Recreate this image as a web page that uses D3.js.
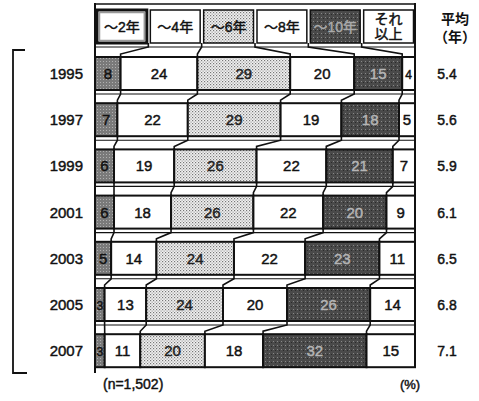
<!DOCTYPE html>
<html><head><meta charset="utf-8">
<script src="https://cdn.jsdelivr.net/npm/d3@7"></script>
<style>
html,body{margin:0;padding:0;background:#fff;}
svg{display:block;font-family:"Liberation Sans",Arial,"Noto Sans CJK JP",sans-serif;}
.t{stroke-width:0.45px;}
</style></head>
<body><svg id="c" width="479" height="401"></svg>
<script>
const years = ["1995","1997","1999","2001","2003","2005","2007"];
const categories = ["～2年","～4年","～6年","～8年","～10年","それ\n以上"];
const s2   = [8,7,6,6,5,3,3];
const s4   = [24,22,19,18,14,13,11];
const s6   = [29,29,26,26,24,24,20];
const s8   = [20,19,22,22,22,20,18];
const s10  = [15,18,21,20,23,26,32];
const sMore= [4,5,7,9,11,14,15];
const avgYears = ["5.4","5.6","5.9","6.1","6.5","6.8","7.1"];
const series = [s2,s4,s6,s8,s10,sMore];

const svg = d3.select("#c");
const defs = svg.append("defs");
const pDot = defs.append("pattern").attr("id","dots").attr("width",3).attr("height",3).attr("patternUnits","userSpaceOnUse");
pDot.append("rect").attr("width",3).attr("height",3).attr("fill","#f2f2f2");
pDot.append("rect").attr("x",0).attr("y",0).attr("width",1.2).attr("height",1.2).attr("fill","#777");
pDot.append("rect").attr("x",1.5).attr("y",1.5).attr("width",1.2).attr("height",1.2).attr("fill","#999");
const pDark = defs.append("pattern").attr("id","dark").attr("width",4).attr("height",4).attr("patternUnits","userSpaceOnUse");
pDark.append("rect").attr("width",4).attr("height",4).attr("fill","#4a4a4a");
pDark.append("rect").attr("x",1).attr("y",1).attr("width",1).attr("height",1).attr("fill","#888");
pDark.append("rect").attr("x",3).attr("y",2).attr("width",1).attr("height",1).attr("fill","#2a2a2a");
const pMid = defs.append("pattern").attr("id","mid").attr("width",3).attr("height",3).attr("patternUnits","userSpaceOnUse");
pMid.append("rect").attr("width",3).attr("height",3).attr("fill","#7a7a7a");
pMid.append("rect").attr("x",1).attr("y",1).attr("width",1).attr("height",1).attr("fill","#b0b0b0");

const fills = ["url(#mid)","#fff","url(#dots)","#fff","url(#dark)","#fff"];
const textFills = ["#111","#111","#222","#111","#b5b5b5","#111"];

const x = d3.scaleLinear().domain([0,100]).range([95,415]);
const y = d3.scaleLinear().domain([0,6]).range([57, 57+6*46.2]);
const barH = 33;
const rowTop = i => y(i);

const rows = years.map((yr,i)=>{
  const vals = series.map(s=>s[i]);
  const tot = d3.sum(vals);
  let c = 0;
  const segs = vals.map((v,k)=>{ const a=c; c+=v; return {k, v, a:a/tot*100, b:c/tot*100}; });
  return {yr, i, segs};
});

svg.append("line").attr("x1",95).attr("x2",415).attr("y1",4).attr("y2",4).attr("stroke","#111").attr("stroke-width",1.5);
svg.append("line").attr("x1",95).attr("x2",95).attr("y1",3).attr("y2",373).attr("stroke","#111").attr("stroke-width",2);
svg.append("line").attr("x1",415).attr("x2",415).attr("y1",3).attr("y2",rowTop(6)+barH).attr("stroke","#111").attr("stroke-width",2);

const legTop = 10, legBot = 43;
const legB = d3.range(7).map(k=>k*100/6);
const lg = svg.append("g");
categories.forEach((c,k)=>{
  const x0 = x(legB[k])+2, x1 = x(legB[k+1])-1.5;
  lg.append("rect").attr("x",x0).attr("y",legTop).attr("width",x1-x0).attr("height",legBot-legTop)
    .attr("fill",k===0?"#fff":fills[k]).attr("stroke","#111").attr("stroke-width",k===0?3:1.5);
  if(k===0){ lg.append("rect").attr("x",x0+2.5).attr("y",legTop+2.5).attr("width",x1-x0-5).attr("height",legBot-legTop-5).attr("fill","none").attr("stroke","#999").attr("stroke-width",1.5); }
  const lines = c.split("\n");
  const col = k===4?"#aaa":"#111";
  const t = lg.append("text").attr("class","t").attr("x",(x0+x1)/2).attr("text-anchor","middle")
    .attr("font-size",14).attr("fill",col).attr("stroke",col);
  if(lines.length===1){ t.attr("y",(legTop+legBot)/2+5).text(lines[0]); }
  else { lines.forEach((l,j)=>t.append("tspan").attr("x",(x0+x1)/2).attr("y",legTop+14+j*15).text(l)); }
});

const conn = svg.append("g").attr("fill","none").attr("stroke","#111").attr("stroke-width",1.6);
function drawGap(yBot, yTop, bTop, bBot){
  conn.append("line").attr("x1",95).attr("x2",415).attr("y1",yBot+4).attr("y2",yBot+4).attr("stroke-width",1.1);
  for(let k=1;k<6;k++){
    const xa = x(bTop[k]), xb = x(bBot[k]);
    conn.append("path").attr("d",`M${xa},${yBot}L${xa},${yBot+4}L${xb},${yTop-3}L${xb},${yTop}`);
  }
}
drawGap(legBot, rowTop(0), legB, [0].concat(rows[0].segs.map(s=>s.b)));
for(let i=0;i<6;i++){
  drawGap(rowTop(i)+barH, rowTop(i+1), [0].concat(rows[i].segs.map(s=>s.b)), [0].concat(rows[i+1].segs.map(s=>s.b)));
}

rows.forEach(r=>{
  const g = svg.append("g");
  g.selectAll("rect").data(r.segs).join("rect")
    .attr("x",d=>x(d.a)).attr("y",rowTop(r.i)).attr("width",d=>x(d.b)-x(d.a)).attr("height",barH)
    .attr("fill",d=>fills[d.k]).attr("stroke","#111").attr("stroke-width",2);
  g.selectAll("text").data(r.segs).join("text").attr("class","t")
    .attr("x",d=>(x(d.a)+x(d.b))/2).attr("y",rowTop(r.i)+barH/2+5.5).attr("text-anchor","middle")
    .attr("font-size",d=>(x(d.b)-x(d.a))<14?12:15).attr("fill",d=>textFills[d.k]).attr("stroke",d=>textFills[d.k])
    .text(d=>d.v);
  svg.append("text").attr("class","t").attr("x",83).attr("y",rowTop(r.i)+barH/2+5.5).attr("text-anchor","end")
    .attr("font-size",15).attr("fill","#111").attr("stroke","#111").text(r.yr);
  svg.append("text").attr("class","t").attr("x",447).attr("y",rowTop(r.i)+barH/2+5.5).attr("text-anchor","middle")
    .attr("font-size",14).attr("fill","#111").attr("stroke","#111").text(avgYears[r.i]);
});

svg.append("text").attr("x",455).attr("y",24).attr("text-anchor","middle").attr("font-size",14).attr("font-weight","bold").attr("fill","#111").text("平均");
svg.append("text").attr("x",455).attr("y",42).attr("text-anchor","middle").attr("font-size",14).attr("font-weight","bold").attr("fill","#111").text("（年）");

svg.append("path").attr("d","M25,50L13,50L13,373L27,373").attr("fill","none").attr("stroke","#111").attr("stroke-width",1.8);

svg.append("text").attr("class","t").attr("x",103).attr("y",389).attr("font-size",14).attr("fill","#111").attr("stroke","#111").text("(n=1,502)");
svg.append("text").attr("class","t").attr("x",410).attr("y",389).attr("text-anchor","middle").attr("font-size",13).attr("fill","#111").attr("stroke","#111").text("(%)");
</script></body></html>
